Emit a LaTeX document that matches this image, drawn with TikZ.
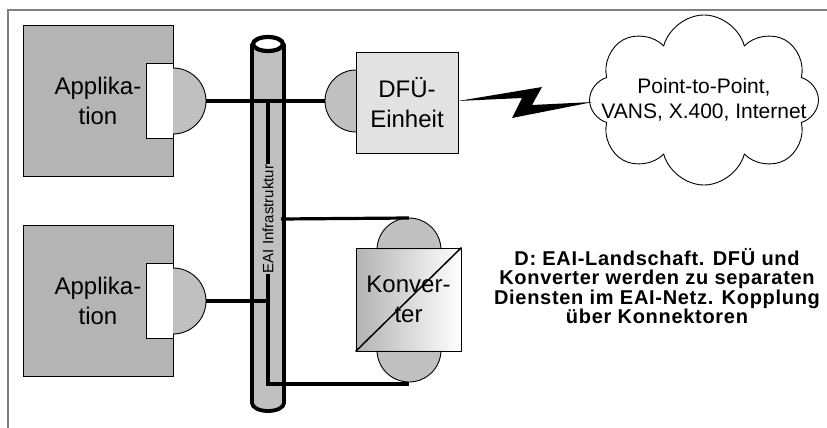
\documentclass[tikz,border=0pt]{standalone}
\usepackage{fontspec}
\setmainfont{Liberation Sans}
\newfontfamily\capfont[LetterSpace=3.5]{Liberation Sans}
\usepackage{tikz}
\usetikzlibrary{positioning, shapes.symbols}

\definecolor{appgray}{HTML}{B4B4B4}
\definecolor{portgray}{HTML}{C0C0C0}
\definecolor{dfuegray}{HTML}{E2E2E2}
\definecolor{framegray}{HTML}{808080}

\begin{document}
\begin{tikzpicture}[x=1pt, y=-1pt,
  box/.style={rectangle, draw, line width=0.9pt, inner sep=0pt, align=center, font=\fontsize{24}{30}\selectfont},
  port/.style={rectangle, draw, fill=white, line width=0.9pt, inner sep=0pt, minimum width=27pt, minimum height=75pt},
  halfport/.style={fill=portgray, draw, line width=0.9pt},
  link/.style={line width=3.2pt}]
  \useasboundingbox (0,0) rectangle (827,428);
  \draw[framegray, line width=1.5pt] (8,428) -- (8,10) -- (827,10);

  \node[box, fill=appgray, minimum width=150pt, minimum height=151pt] (app1) at (98,100.5) {Applika-\\tion};
  \node[port] (app1p) at (159.5,101) {};
  \filldraw[halfport] (173,68) arc[start angle=-90, end angle=90, radius=33];
  \coordinate (app1c) at (206,101);

  \node[box, fill=appgray, minimum width=150pt, minimum height=151pt] (app2) at (98,301) {Applika-\\tion};
  \node[port] (app2p) at (159.5,301) {};
  \filldraw[halfport] (173,268) arc[start angle=-90, end angle=90, radius=33];
  \coordinate (app2c) at (206,301);

  % pipe
  \filldraw[fill=portgray, line width=3.8pt] (252,44) -- (252,403) arc[start angle=180, end angle=0, x radius=16, y radius=8] -- (284,44);
  \filldraw[fill=white, line width=4.2pt] (268,44) ellipse[x radius=15, y radius=7];
  \node[rotate=90, inner sep=1pt, font=\fontsize{15}{15}\selectfont] (bus) at (268,219) {EAI Infrastruktur};
  \coordinate (busA) at (268,101);
  \coordinate (busB) at (268,301);
  \coordinate (pipeR) at (281,219);

  \filldraw[halfport] (356,70) arc[start angle=-90, end angle=-270, radius=31];
  \node[box, fill=dfuegray, minimum width=102pt, minimum height=101pt] (dfue) at (407,102.5) {DFÜ-\\Einheit};
  \coordinate (dfuec) at (325,101);

  \filldraw[halfport] (377,250) arc[start angle=180, end angle=360, radius=32];
  \filldraw[halfport] (377,350) arc[start angle=180, end angle=0, radius=32];
  \node[box, left color=gray!70!white, right color=white, fill opacity=.85, text opacity=1, minimum width=105pt, minimum height=103pt] (konv) at (408.5,299.5) {Konver-\\ter};
  \draw[line width=1.5pt] (konv.south west) -- (konv.north east);
  \coordinate (konvT) at (409,218);
  \coordinate (konvB) at (409,384);

  \node[cloud, draw, line width=0.9pt, cloud puffs=8, cloud ignores aspect, minimum width=229pt, minimum height=170pt] (cloud) at (704,100) {};
  \node[align=center, font=\fontsize{21}{25}\selectfont] (net) at (cloud.center) {Point-to-Point,\\VANS, X.400, Internet};

  \draw[link] (app1c) -- (dfuec);
  \draw[link] (app2c) -- (busB);
  \draw[line width=3.5pt] (busA) -- (bus.east);
  \draw[link] (bus.west) |- (konvB);
  \draw[link] (pipeR) -- (konvT);
  \fill (458,101) -- (542,87) -- (532,105) -- (593,102) -- (512,118) -- (522,98) -- cycle;

  \node[align=center, font=\fontsize{20}{19.5}\capfont\bfseries] (caption) at (657,286) {D: EAI-Landschaft. DFÜ und\\Konverter werden zu separaten\\Diensten im EAI-Netz. Kopplung\\über Konnektoren};
\end{tikzpicture}
\end{document}
